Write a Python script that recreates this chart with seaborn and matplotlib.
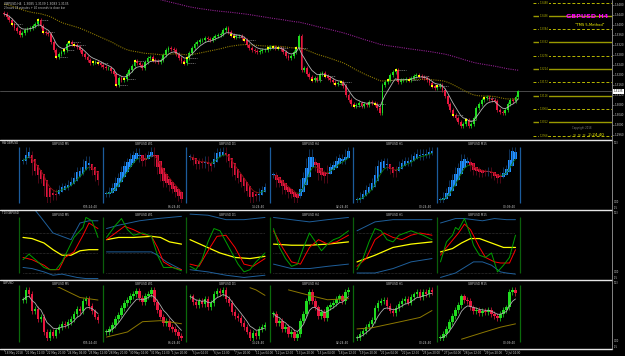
import numpy as np
import pandas as pd
import matplotlib
matplotlib.use("Agg")
import matplotlib.pyplot as plt
from matplotlib.lines import Line2D
from matplotlib.collections import LineCollection
from matplotlib.transforms import blended_transform_factory
import seaborn as sns

# ---------------- main chart data (GBPUSD H4) ----------------
MAIN_OPEN0 = 1.3450
MAIN_CLOSE = [
    1.3444, 1.3432, 1.3420, 1.3404, 1.3388, 1.3376, 1.3360, 1.3368, 1.3380, 1.3384,
    1.3388, 1.3396, 1.3404, 1.3420, 1.3396, 1.3372, 1.3368, 1.3364, 1.3332, 1.3300,
    1.3272, 1.3284, 1.3292, 1.3300, 1.3324, 1.3332, 1.3324, 1.3320, 1.3312, 1.3300,
    1.3284, 1.3272, 1.3260, 1.3248, 1.3252, 1.3252, 1.3248, 1.3240, 1.3232, 1.3228,
    1.3228, 1.3216, 1.3204, 1.3160, 1.3188, 1.3180, 1.3184, 1.3204, 1.3220, 1.3236,
    1.3256, 1.3248, 1.3240, 1.3228, 1.3252, 1.3268, 1.3272, 1.3260, 1.3256, 1.3252,
    1.3260, 1.3280, 1.3300, 1.3308, 1.3304, 1.3300, 1.3284, 1.3268, 1.3256, 1.3248,
    1.3268, 1.3288, 1.3308, 1.3324, 1.3332, 1.3340, 1.3340, 1.3348, 1.3344, 1.3340,
    1.3348, 1.3356, 1.3360, 1.3364, 1.3380, 1.3388, 1.3372, 1.3360, 1.3352, 1.3356,
    1.3356, 1.3348, 1.3340, 1.3320, 1.3308, 1.3300, 1.3296, 1.3292, 1.3296, 1.3300,
    1.3300, 1.3308, 1.3312, 1.3312, 1.3308, 1.3308, 1.3304, 1.3292, 1.3276, 1.3268,
    1.3276, 1.3292, 1.3308, 1.3356, 1.3220, 1.3228, 1.3204, 1.3192, 1.3180, 1.3188,
    1.3180, 1.3204, 1.3208, 1.3196, 1.3188, 1.3180, 1.3172, 1.3164, 1.3168, 1.3172,
    1.3156, 1.3120, 1.3100, 1.3084, 1.3076, 1.3080, 1.3088, 1.3076, 1.3084, 1.3080,
    1.3092, 1.3088, 1.3084, 1.3068, 1.3048, 1.3160, 1.3172, 1.3180, 1.3200, 1.3212,
    1.3220, 1.3172, 1.3180, 1.3180, 1.3184, 1.3180, 1.3188, 1.3196, 1.3200, 1.3196,
    1.3192, 1.3188, 1.3180, 1.3168, 1.3156, 1.3148, 1.3156, 1.3160, 1.3140, 1.3116,
    1.3084, 1.3060, 1.3040, 1.3028, 1.3012, 1.2996, 1.3004, 1.3020, 1.2996, 1.3004,
    1.3028, 1.3068, 1.3084, 1.3100, 1.3108, 1.3112, 1.3104, 1.3100, 1.3096, 1.3060,
    1.3052, 1.3048, 1.3060, 1.3084, 1.3100, 1.3096, 1.3112, 1.3135,
]
MARKER_BARS = [3, 13, 15, 20, 23, 25, 27, 34, 36, 43, 46, 50, 57, 69, 70, 87, 88, 92,
               101, 103, 105, 112, 118, 123, 127, 129, 134, 142, 147, 150, 155, 159,
               164, 166, 172, 177, 184]
OLIVE_SEED = 1.3485
MAGENTA_SEED = 1.3750
LAST_PRICE = 1.3135
LEVELS_SOLID = [1.3436, 1.3332, 1.3224, 1.3116, 1.3012]
LEVELS_DASHED = [1.3488, 1.3384, 1.3276, 1.3172, 1.3064, 1.2956]
PRICE_TICKS = [1.3480, 1.3440, 1.3400, 1.3360, 1.3320, 1.3280, 1.3240, 1.3200,
               1.3160, 1.3120, 1.3080, 1.3040, 1.3000, 1.2960]
DATE_LABELS = ["18 May 2018", "21 May 12:00", "22 May 20:00", "24 May 04:00",
               "25 May 12:00", "28 May 20:00", "30 May 04:00", "31 May 12:00",
               "1 Jun 20:00", "5 Jun 04:00", "6 Jun 12:00", "7 Jun 20:00",
               "11 Jun 04:00", "12 Jun 12:00", "13 Jun 20:00", "15 Jun 04:00",
               "18 Jun 12:00", "19 Jun 20:00", "21 Jun 04:00", "22 Jun 12:00",
               "25 Jun 20:00", "27 Jun 04:00", "28 Jun 12:00", "29 Jun 20:00",
               "2 Jul 04:00"]

# ---------------- mini charts (closes per timeframe) ----------------
TIMEFRAMES = ["M5", "W1", "D1", "H4", "H1", "M15"]
TIMERS = ["635:24:40", "86:24:40", "14:24:40", "02:24:40", "00:24:40", "00:09:40"]

M5_CLOSE = [1.31430, 1.31470, 1.31455, 1.31385, 1.31395, 1.31355, 1.31365, 1.31305,
            1.31280, 1.31305, 1.31290, 1.31310, 1.31325, 1.31335, 1.31330, 1.31345,
            1.31355, 1.31375, 1.31395, 1.31385, 1.31425, 1.31435, 1.31405, 1.31385,
            1.31365, 1.31350]
W1_CLOSE = [1.32850, 1.33600, 1.34600, 1.36100, 1.37100, 1.38600, 1.39850, 1.40600,
            1.41600, 1.42100, 1.42850, 1.41100, 1.40100, 1.41600, 1.42100, 1.43100,
            1.40100, 1.38100, 1.36600, 1.35100, 1.35600, 1.34100, 1.33600, 1.32850,
            1.31850, 1.31350]
D1_CLOSE = [1.32650, 1.32400, 1.32250, 1.32450, 1.32300, 1.32550, 1.32150, 1.32350,
            1.32750, 1.32900, 1.32800, 1.32950, 1.32550, 1.32350, 1.31950, 1.31750,
            1.31650, 1.31450, 1.31250, 1.31050, 1.30750, 1.31000, 1.30850, 1.31150,
            1.31250, 1.31350]
H4_CLOSE = [1.3069, 1.3045, 1.3051, 1.3027, 1.3033, 1.3015, 1.3021, 1.3003, 1.3015,
            1.3051, 1.3069, 1.3105, 1.3129, 1.3105, 1.3087, 1.3063, 1.3075, 1.3057,
            1.3087, 1.3093, 1.3099, 1.3111, 1.3117, 1.3105, 1.3129, 1.3135]
H1_CLOSE = [1.3095, 1.3099, 1.3101, 1.3105, 1.3107, 1.3111, 1.3121, 1.3126, 1.3127,
            1.3128, 1.3123, 1.3119, 1.3117, 1.3121, 1.3125, 1.3127, 1.3129, 1.3126,
            1.3131, 1.3133, 1.3135, 1.3131, 1.3135, 1.3133, 1.3137, 1.3135]
M15_CLOSE = [1.3094, 1.3098, 1.3102, 1.3109, 1.3114, 1.3120, 1.3124, 1.3132, 1.3129,
             1.3128, 1.3122, 1.3119, 1.3120, 1.3117, 1.3119, 1.3118, 1.3120, 1.3116,
             1.3114, 1.3112, 1.3116, 1.3120, 1.3122, 1.3136, 1.3138, 1.3135]

# slow MA (olive) read at a few bars of each mini chart
M5_OLIVE = ([7, 12, 19, 25], [1.31505, 1.31480, 1.31440, 1.31430])
W1_OLIVE = ([0, 7, 12, 18, 25], [1.3160, 1.3285, 1.3535, 1.3560, 1.3485])
D1_OLIVE = ([20, 22, 25], [1.3305, 1.3295, 1.3270])
H4_OLIVE = ([5, 12, 18, 25], [1.3135, 1.3120, 1.3108, 1.3111])
H1_OLIVE = ([0, 5, 14, 21, 25], [1.3103, 1.3104, 1.3109, 1.3113, 1.3119])
M15_OLIVE = ([7, 14, 20, 25], [1.3093, 1.3099, 1.3104, 1.3107])

# TDI lines: (bar, value) pairs
M5_TDI = dict(
    up=([3, 6, 10, 14, 16, 19, 22, 25], [92, 82, 68, 64, 62, 77, 79, 79]),
    lo=([0, 3, 7, 10, 13, 18, 21, 25], [37, 36, 33, 30, 31, 28, 27, 27]),
    yel=([0, 3, 7, 10, 13, 16, 19, 22, 25], [64, 63, 59, 53, 48, 48, 52, 53, 53]),
    red=([0, 3, 7, 9, 12, 14, 17, 20, 22, 25], [46, 44, 39, 35, 35, 46, 51, 66, 77, 72]),
    grn=([0, 2, 5, 7, 9, 11, 13, 15, 17, 20, 21, 23, 25],
         [44, 49, 42, 37, 35, 35, 42, 53, 64, 73, 82, 79, 64]),
)
W1_TDI = dict(
    up=([0, 4, 11, 17, 21, 25], [72, 75, 79, 81, 82, 83]),
    lo=([0, 9, 15, 17, 20, 25], [51, 51, 51, 48, 42, 35]),
    yel=([0, 4, 9, 15, 18, 21, 25], [62, 64, 64, 65, 64, 60, 58]),
    red=([0, 3, 6, 9, 12, 15, 17, 19, 22, 25], [62, 68, 74, 71, 67, 65, 55, 42, 37, 35]),
    grn=([0, 3, 5, 7, 9, 12, 15, 17, 19, 22, 25], [64, 75, 81, 71, 66, 68, 65, 48, 37, 37, 34]),
)
D1_TDI = dict(
    up=([0, 6, 12, 18, 25], [85, 84, 80, 80, 82]),
    lo=([0, 6, 12, 18, 25], [35, 33, 30, 28, 30]),
    yel=([0, 5, 10, 15, 20, 25], [62, 56, 50, 46, 45, 47]),
    red=([0, 3, 6, 9, 12, 15, 18, 21, 25], [40, 38, 52, 65, 66, 55, 40, 38, 45]),
    grn=([0, 2, 4, 6, 8, 10, 12, 14, 16, 18, 20, 22, 25],
         [38, 35, 44, 60, 72, 70, 60, 50, 40, 33, 35, 42, 50]),
)
H4_TDI = dict(
    up=([0, 6, 12, 18, 25], [82, 80, 78, 80, 82]),
    lo=([0, 6, 12, 18, 25], [40, 36, 36, 38, 40]),
    yel=([0, 6, 12, 18, 25], [58, 57, 57, 58, 60]),
    red=([0, 3, 6, 9, 12, 15, 18, 21, 25], [70, 55, 42, 40, 55, 62, 58, 60, 66]),
    grn=([0, 2, 4, 6, 8, 10, 12, 14, 16, 18, 20, 22, 25],
         [72, 55, 45, 38, 40, 55, 68, 60, 52, 58, 62, 64, 70]),
)
H1_TDI = dict(
    up=([0, 6, 12, 18, 25], [70, 78, 80, 80, 80]),
    lo=([0, 6, 12, 18, 25], [32, 32, 36, 42, 45]),
    yel=([0, 6, 12, 18, 25], [42, 48, 55, 58, 60]),
    red=([0, 3, 6, 9, 12, 15, 18, 21, 25], [38, 45, 62, 68, 64, 62, 66, 68, 66]),
    grn=([0, 2, 4, 6, 8, 10, 12, 14, 16, 18, 20, 22, 25],
         [35, 45, 60, 72, 70, 62, 60, 66, 68, 70, 68, 66, 62]),
)
M15_TDI = dict(
    up=([0, 5, 8, 14, 18, 22, 25], [77, 81, 81, 79, 81, 80, 80]),
    lo=([0, 5, 8, 11, 14, 17, 20, 22, 25], [28, 32, 37, 42, 42, 39, 33, 32, 31]),
    yel=([0, 4, 7, 10, 13, 17, 21, 25], [51, 54, 59, 63, 63, 59, 55, 55]),
    red=([0, 2, 6, 8, 10, 13, 15, 18, 20, 23, 25], [48, 55, 68, 76, 71, 55, 46, 42, 41, 41, 53]),
    grn=([0, 2, 4, 5, 6, 8, 10, 11, 13, 15, 17, 19, 21, 23, 25],
         [42, 60, 66, 73, 71, 81, 66, 57, 48, 46, 50, 33, 39, 46, 66]),
)
TDI_LEVELS = [68, 50, 32]

MINI_CLOSE = [M5_CLOSE, W1_CLOSE, D1_CLOSE, H4_CLOSE, H1_CLOSE, M15_CLOSE]
MINI_OLIVE = [M5_OLIVE, W1_OLIVE, D1_OLIVE, H4_OLIVE, H1_OLIVE, M15_OLIVE]
MINI_TDI = [M5_TDI, W1_TDI, D1_TDI, H4_TDI, H1_TDI, M15_TDI]

# ---------------- layout (pixels of the 625x356 picture) ----------------
W_PX, H_PX = 625, 356
PLOT_R = 612
BAR_PX = 2.61
SEP = [19, 102.5, 186, 269.5, 353, 436.5, 520]

GREEN = "#1fdc1f"
RED = "#e8173f"
TXT = "#c8c8c8"

sns.set_theme(style="dark")
plt.rcParams["font.family"] = ["DejaVu Sans"]
plt.rcParams["axes.facecolor"] = "black"

fig = plt.figure(figsize=(6.25, 3.56), dpi=100, facecolor="black")


def rect(x0, y0, x1, y1):
    return [x0 / W_PX, 1 - y1 / H_PX, (x1 - x0) / W_PX, (y1 - y0) / H_PX]


def draw_candles(ax, x, o, h, l, c, up_col, dn_col, width, min_body,
                 wick_up=None, wick_dn=None):
    up = c >= o
    body_cols = np.where(up, up_col, dn_col)
    wick_cols = np.where(up, wick_up or up_col, wick_dn or dn_col)
    ax.vlines(x, l, h, colors=wick_cols, lw=0.5)
    ax.bar(x, np.maximum(np.abs(c - o), min_body), bottom=np.minimum(o, c),
           width=width, color=body_cols, lw=0)


def hline_fig(y_px, color="#e6e6e6", lw=1.0):
    fig.add_artist(Line2D([0, PLOT_R / W_PX], [1 - y_px / H_PX] * 2, color=color, lw=lw))


# ================= main chart =================
ax = fig.add_axes(rect(0, 0, PLOT_R, 140))
ax.set_facecolor("black")
close = np.array(MAIN_CLOSE)
bars = np.arange(len(close))
opens = np.r_[MAIN_OPEN0, close[:-1]]
wick = 0.0007
highs = np.maximum(opens, close) + wick
lows = np.minimum(opens, close) - wick

ax.set_xlim(-4 / BAR_PX, (PLOT_R - 4) / BAR_PX)
ax.set_ylim(1.2940, 1.3500)

ax.axhline(LAST_PRICE, color="#4a4a4a", lw=0.7, zorder=0)

# moving averages
fast = pd.Series(close).ewm(span=6, adjust=False).mean()
olive = pd.Series(np.r_[OLIVE_SEED, close]).ewm(span=50, adjust=False).mean().to_numpy()[1:]
magenta = pd.Series(np.r_[MAGENTA_SEED, close]).ewm(span=160, adjust=False).mean().to_numpy()[1:]
ax.plot(bars, olive, color="#8c7800", lw=0.8, ls=(0, (1, 1)))
ax.plot(bars, magenta, color="#8e1f8e", lw=0.8, ls=(0, (1, 1)))

draw_candles(ax, bars, opens, highs, lows, close, GREEN, RED, 0.7, 0.00018)
sns.lineplot(x=bars, y=fast, ax=ax, color="#b5b5b5", lw=0.6, legend=False)

# yellow signal squares with short pale dashes
mk = np.array(MARKER_BARS)
ax.hlines(close[mk], mk + 1, mk + 4, colors="#9c9c9c", lw=0.5, linestyles=(0, (1.5, 1.2)))
ax.scatter(mk, close[mk], marker="s", s=3.5, color="#ffff00", lw=0, zorder=5)

# horizontal levels on the right
lvl_x0 = (533 - 4) / BAR_PX
ax.hlines(LEVELS_SOLID, lvl_x0, ax.get_xlim()[1], colors="#9a9a00", lw=1.0)
ax.hlines(LEVELS_DASHED, lvl_x0, ax.get_xlim()[1], colors="#b8b800", lw=0.7,
          linestyles=(0, (3, 2)))
for lv in LEVELS_SOLID + LEVELS_DASHED:
    ax.text(lvl_x0 + 2.5, lv, f"{lv:.4f}", fontsize=1.8, color="#b0b000",
            ha="left", va="center",
            bbox=dict(boxstyle="square,pad=0.1", fc="black", ec="none"))

ax.yaxis.tick_right()
ax.set_yticks(PRICE_TICKS)
ax.set_yticklabels([f"{t:.4f}" for t in PRICE_TICKS], fontsize=2.0, color=TXT)
ax.tick_params(axis="y", length=1.5, width=0.4, color="#9a9a9a", pad=0.6)
ax.set_xticks([])
ax.set_xlabel("")
ax.set_ylabel("")
for sp in ax.spines.values():
    sp.set_visible(False)
ax.grid(False)

tr = blended_transform_factory(ax.transAxes, ax.transData)
ax.text(1.003, LAST_PRICE, f"{LAST_PRICE:.4f}", transform=tr, fontsize=2.0, color="black",
        va="center", ha="left", bbox=dict(boxstyle="square,pad=0.15", fc="white", ec="none"))

ax.text(0.006, 0.985, "GBPUSD,H4  1.3085 1.3139 1.3083 1.3135", transform=ax.transAxes,
        fontsize=2.2, color=TXT, va="top")
ax.text(0.006, 0.955, "2 hours 24 minutes + 40 seconds to close bar", transform=ax.transAxes,
        fontsize=1.9, color=TXT, va="top")
ax.text(587 / PLOT_R, 1 - 17 / 140, "GBPUSD H4", transform=ax.transAxes, fontsize=4.6,
        color="#ff00ff", fontweight="bold", ha="center", va="center")
ax.text(590 / PLOT_R, 1 - 25.5 / 140, "\"TMS 5-Method\"", transform=ax.transAxes,
        fontsize=2.6, color="#ffff00", ha="center", va="center")
ax.text(582 / PLOT_R, 1 - 128 / 140, "Copyright 2018", transform=ax.transAxes,
        fontsize=1.8, color="#808080", ha="center", va="center")
ax.text(587 / PLOT_R, 1 - 135 / 140, "- < < <  2:24:40", transform=ax.transAxes,
        fontsize=3.0, color="#ffff00", ha="center", va="center")

# ================= time axis =================
tax = fig.add_axes(rect(0, 349, PLOT_R, H_PX))
tax.set_facecolor("black")
tax.set_xlim(ax.get_xlim())
tax.set_ylim(0, 1)
tax.axis("off")
for i, lab in enumerate(DATE_LABELS):
    tax.vlines(i * 8, 0.7, 1.0, color="#9a9a9a", lw=0.4)
    tax.text(i * 8 + 0.4, 0.42, lab, fontsize=2.0, color=TXT, ha="left", va="center")

# ================= sub panels =================
PANELS = [("HA GBPUSD", 140, 210, "#1c5c9c", (147, 203)),
          ("TDI GBPUSD", 210, 280, "#0b5e0b", (217, 273)),
          ("GBPUSD", 280, 349, "#0b6a0b", (285, 342))]

for name, top, bot, sep_col, (s0, s1) in PANELS:
    pax = fig.add_axes(rect(0, top, PLOT_R, bot))
    pax.set_facecolor("black")
    pax.set_xlim(0, PLOT_R)
    pax.set_ylim(bot - top, 0)
    pax.axis("off")
    pax.vlines(SEP, s0 - top, s1 - top, colors=sep_col, lw=0.9)
    pax.text(2.5, 3.5, name, fontsize=2.0, color=TXT, ha="left", va="center")
    for k, tf in enumerate(TIMEFRAMES):
        title_y = 4 if name != "TDI GBPUSD" else 4.5
        pax.text(SEP[k] + 41, title_y, f"GBPUSD {tf}", fontsize=2.1, color=TXT,
                 ha="center", va="center")
        if name != "TDI GBPUSD":
            pax.text(SEP[k] + 79, bot - top - (3 if name == "HA GBPUSD" else 6),
                     TIMERS[k], fontsize=2.1, color=TXT, ha="right", va="center")
    fig.text(613.5 / W_PX, 1 - (top + 3) / H_PX, "103", fontsize=1.8, color=TXT, va="center")
    fig.text(613.5 / W_PX, 1 - (bot - 8) / H_PX, "0.00", fontsize=1.8, color=TXT, va="center")
    fig.text(613.5 / W_PX, 1 - (bot - 2) / H_PX, "-15", fontsize=1.8, color=TXT, va="center")


def mini_ax(s, y0, y1):
    a = fig.add_axes(rect(s + 2.5, y0, s + 81, y1))
    a.set_xlim(-0.5, 25.67)
    a.axis("off")
    a.patch.set_alpha(0)
    return a


for k in range(6):
    s = SEP[k]
    c = np.array(MINI_CLOSE[k])
    x = np.arange(len(c))
    o = np.r_[c[0], c[:-1]]
    pad = 0.06 * (c.max() - c.min())
    h = np.maximum(o, c) + pad
    l = np.minimum(o, c) - pad
    mb = 0.02 * (c.max() - c.min())

    # Heikin Ashi panel
    ha_c = (o + h + l + c) / 4
    ha_o = np.empty_like(ha_c)
    ha_o[0] = (o[0] + c[0]) / 2
    for i in range(1, len(c)):
        ha_o[i] = (ha_o[i - 1] + ha_c[i - 1]) / 2
    ha_h = np.maximum.reduce([h, ha_o, ha_c])
    ha_l = np.minimum.reduce([l, ha_o, ha_c])
    a = mini_ax(s, 147, 203)
    draw_candles(a, x, ha_o, ha_h, ha_l, ha_c, "#1e8fff", "#e0143c", 0.7, mb,
                 wick_up="#16457a", wick_dn="#6c0c20")
    ma = pd.Series(ha_c).ewm(span=5, adjust=False).mean().to_numpy()
    segs = [[(x[i], ma[i]), (x[i + 1], ma[i + 1])] for i in range(len(x) - 1)]
    cols = ["#0b7a0b" if ma[i + 1] >= ma[i] else "#8e1010" for i in range(len(x) - 1)]
    a.add_collection(LineCollection(segs, colors=cols, lw=0.6))
    a.set_ylim(ha_l.min(), ha_h.max())

    # TDI panel
    t = MINI_TDI[k]
    a = mini_ax(s, 210, 280)
    a.set_ylim(25.7, 88.7)
    a.hlines(TDI_LEVELS, 0, 25, colors="#6a6a6a", lw=0.4, linestyles=(0, (1, 1.5)))
    for key, col, lw in [("up", "#1f5f9a", 0.7), ("lo", "#1f5f9a", 0.7),
                         ("yel", "#ffff00", 0.9), ("red", "#ff0000", 0.7),
                         ("grn", "#00a000", 0.7)]:
        sns.lineplot(x=t[key][0], y=t[key][1], ax=a, color=col, lw=lw, legend=False)
    a.set_xlim(-0.5, 25.67)
    a.set_ylim(25.7, 88.7)

    # candle panel
    a = mini_ax(s, 287, 341)
    draw_candles(a, x, o, h, l, c, GREEN, RED, 0.7, mb)
    fast_m = pd.Series(c).ewm(span=6, adjust=False).mean()
    sns.lineplot(x=x, y=fast_m, ax=a, color="#b0b0b0", lw=0.6, legend=False)
    ox, oy = MINI_OLIVE[k]
    a.plot(ox, oy, color="#8c7800", lw=0.7)
    a.set_xlim(-0.5, 25.67)
    a.set_ylim(l.min(), h.max())

# frame lines
for y in (140, 210, 280, 349):
    hline_fig(y)
fig.add_artist(Line2D([PLOT_R / W_PX] * 2, [1 - 349 / H_PX, 1], color="#9a9a9a", lw=0.6))

fig.savefig("out.png", dpi=100, facecolor="black")
